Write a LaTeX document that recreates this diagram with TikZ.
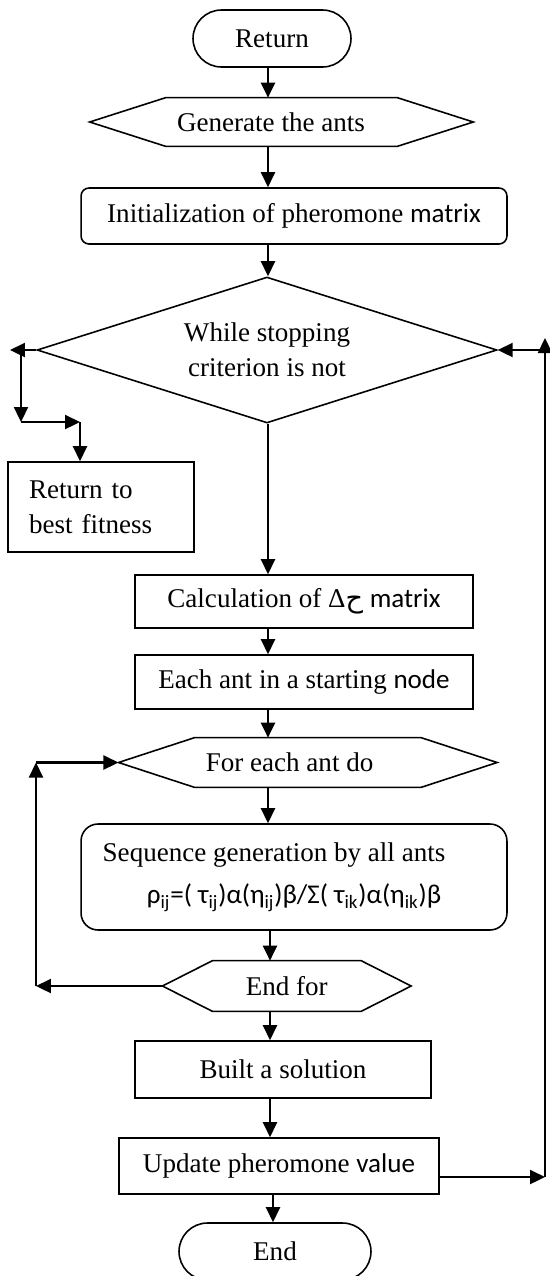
\documentclass[tikz,border=0pt]{standalone}
\usepackage{fontspec}
\setmainfont{Liberation Serif}
\newfontfamily\calfont{Carlito}
\newfontfamily\arabicfont[Script=Arabic]{DejaVu Sans}
\usetikzlibrary{calc}
\usetikzlibrary{positioning}
\usetikzlibrary{shapes.geometric}
\usetikzlibrary{arrows.meta}

\begin{document}
\begin{tikzpicture}[x=0.02cm, y=-0.02cm,
  font=\fontsize{15.4}{20}\selectfont,
  box/.style={draw, line width=0.9pt, inner sep=0pt},
  hexa/.style={inner sep=0pt},
  hexline/.style={draw, line width=0.9pt},
  arr/.style={line width=1.3pt, -{Triangle[length=0.3cm,width=0.28cm]}}]

\useasboundingbox (0,0) rectangle (549,1276);

\newcommand{\hexA}{1.52cm}  % 六边形尖角的深度
\newcommand{\hexB}{1.0cm}   % 小六边形尖角的深度

% 竖直箭头所在的列
\coordinate (axA) at (268,0);
\coordinate (axB) at (270,0);
\coordinate (axC) at (273,0);

\node[box, rounded corners=0.57cm, minimum width=3.16cm, minimum height=1.14cm] (ret) at (272,38.5) {Return};

\node[hexa, minimum width=7.66cm, minimum height=0.96cm] (gen) at (281.5,122) {Generate the ants\hspace*{0.42cm}};
\draw[hexline] (gen.west) -- ([xshift=\hexA]gen.north west) -- ([xshift=-\hexA]gen.north east) -- (gen.east) -- ([xshift=-\hexA]gen.south east) -- ([xshift=\hexA]gen.south west) -- cycle;

\node[box, rounded corners=0.16cm, minimum width=8.52cm, minimum height=1.12cm] (init) at (294,216) {Initialization of pheromone {\calfont matrix}};

\node[box, diamond, aspect=3.15, minimum width=9.2cm, minimum height=2.92cm, align=center] (cond) at (267,350) {While stopping\\criterion is not};

\node[box, minimum width=3.72cm, minimum height=1.8cm, inner xsep=0.42cm, text width=2.88cm, align=left] (best) at (101,507) {Return to\\best fitness};

\node[box, minimum width=6.76cm, minimum height=1.06cm] (calc) at (304,601.5) {Calculation of Δ{\arabicfont ح} {\calfont matrix}};

\node[box, minimum width=6.76cm, minimum height=1.08cm] (each) at (304,682) {Each ant in a starting {\calfont node}};

\node[hexa, minimum width=7.56cm, minimum height=0.98cm] (fore) at (307.8,762.5) {For each ant do\hspace*{0.73cm}};
\draw[hexline] (fore.west) -- ([xshift=\hexA]fore.north west) -- ([xshift=-\hexA]fore.north east) -- (fore.east) -- ([xshift=-\hexA]fore.south east) -- ([xshift=\hexA]fore.south west) -- cycle;

\node[box, rounded corners=0.34cm, minimum width=8.52cm, minimum height=2.12cm, align=center] (seq) at (294,877) {Sequence generation by all ants\hspace*{0.8cm}\\[0.15cm]
  {\calfont ρ\textsubscript{ij}=( τ\textsubscript{ij})α(η\textsubscript{ij})β/Σ( τ\textsubscript{ik})α(η\textsubscript{ik})β}};

\node[hexa, minimum width=4.96cm, minimum height=1.0cm] (endf) at (286.8,986) {End for};
\draw[hexline] (endf.west) -- ([xshift=\hexB]endf.north west) -- ([xshift=-\hexB]endf.north east) -- (endf.east) -- ([xshift=-\hexB]endf.south east) -- ([xshift=\hexB]endf.south west) -- cycle;

\node[box, minimum width=5.92cm, minimum height=1.14cm] (built) at (283,1069.5) {Built a solution};

\node[box, minimum width=6.4cm, minimum height=1.12cm] (upd) at (279,1166) {Update pheromone {\calfont value}};

\node[box, rounded corners=0.57cm, minimum width=3.84cm, minimum height=1.14cm] (fin) at (275,1251.5) {End};

% 主干箭头
\draw[arr] (ret.south -| axA) -- (gen.north -| axA);
\draw[arr] (gen.south -| axA) -- (init.north -| axA);
\draw[arr] (init.south -| axA) -- (cond.north -| axA);
\draw[arr] (cond.south -| axA) -- (calc.north -| axA);
\draw[arr] (calc.south -| axA) -- (each.north -| axA);
\draw[arr] (each.south -| axA) -- (fore.north -| axA);
\draw[arr] (fore.south -| axA) -- (seq.north -| axA);
\draw[arr] (seq.south -| axB) -- (endf.north -| axB);
\draw[arr] (endf.south -| axB) -- (built.north -| axB);
\draw[arr] (built.south -| axB) -- (upd.north -| axB);
\draw[arr] (upd.south -| axC) -- (fin.north -| axC);

% 左边的分支
\coordinate (L1) at (10,350);
\coordinate (L2) at (21,350);
\coordinate (L3) at (21,422);
\coordinate (L4) at (80,422);
\draw[arr] (cond.west) -- (L1);
\draw[arr] (L2) -- (L3);
\draw[arr] (L3) -- (L4);
\draw[arr] (L4) -- (L4 |- best.north);

% 内循环
\coordinate (K1) at (36,986);
\coordinate (K2) at (36,762.5);
\draw[arr] (endf.west) -- (K1);
\draw[arr] (K1) -- (K2);
\draw[arr] (K2) -- (fore.west);

% 外循环
\coordinate (R1) at (545,1177);
\coordinate (R2) at (545,338);
\coordinate (R3) at (545,350);
\draw[arr] (R1 -| upd.east) -- (R1);
\draw[arr] (R1) -- (R2);
\draw[arr] (R3) -- (cond.east);

\end{tikzpicture}
\end{document}
